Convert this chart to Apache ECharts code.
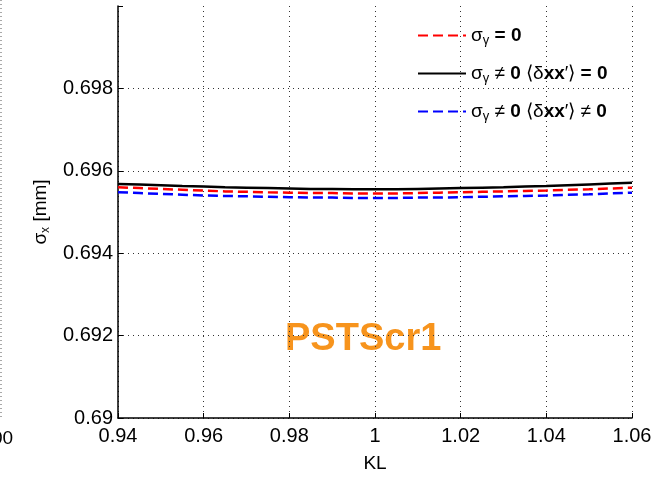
<!DOCTYPE html>
<html>
<head>
<meta charset="utf-8">
<script src="https://cdn.jsdelivr.net/npm/echarts@6/dist/echarts.min.js"></script>
<style>
	html, body { margin: 0; padding: 0; background: #fff; }
	#chart { width: 657px; height: 478px; }
</style>
</head>
<body>
<div id="chart"></div>
<script>
// KL scan, sigma_x in mm
const kl = [0.94, 0.945, 0.95, 0.955, 0.96, 0.965, 0.97, 0.975, 0.98, 0.985, 0.99, 0.995, 1.0,
	1.005, 1.01, 1.015, 1.02, 1.025, 1.03, 1.035, 1.04, 1.045, 1.05, 1.055, 1.06];
const sigGamma0 = [0.69560, 0.69558, 0.69556, 0.69554, 0.69552, 0.69550, 0.69549, 0.69548, 0.69547,
	0.69546, 0.69546, 0.69545, 0.69545, 0.69545, 0.69546, 0.69547, 0.69548, 0.69549, 0.69550,
	0.69551, 0.69552, 0.69554, 0.69555, 0.69557, 0.69559];
const sigGammaCorr0 = [0.69568, 0.69567, 0.69565, 0.69563, 0.69562, 0.69560, 0.69559, 0.69558, 0.69557,
	0.69556, 0.69556, 0.69555, 0.69555, 0.69555, 0.69556, 0.69557, 0.69558, 0.69559, 0.69560,
	0.69562, 0.69563, 0.69565, 0.69567, 0.69569, 0.69571];
const sigGammaCorr = [0.69548, 0.69546, 0.69544, 0.69542, 0.69540, 0.69539, 0.69538, 0.69537, 0.69536,
	0.69535, 0.69535, 0.69534, 0.69534, 0.69534, 0.69535, 0.69535, 0.69536, 0.69537, 0.69538,
	0.69539, 0.69540, 0.69542, 0.69543, 0.69545, 0.69547];
const seriesNames = ['s0', 's1', 's2'];

const font = 'Arial, "Liberation Sans", sans-serif';
const pair = (ys) => kl.map((x, i) => [x, ys[i]]);

const legendText = {
	s0: '{g|σ}{sub|γ}{b| = 0}',
	s1: '{g|σ}{sub|γ}{g| ≠ }{b|0 }{g|⟨δ}{b|xx}{g|′⟩}{b| = 0}',
	s2: '{g|σ}{sub|γ}{g| ≠ }{b|0 }{g|⟨δ}{b|xx}{g|′⟩}{g| ≠ }{b|0}',
};

const chart = echarts.init(document.getElementById('chart'));
chart.setOption({
	animation: false,
	grid: { left: 118, right: 25, top: 6, bottom: 57 },
	legend: {
		orient: 'vertical',
		left: 412,
		top: 21,
		itemWidth: 48,
		itemHeight: 14,
		itemGap: 17,
		data: seriesNames,
		formatter: (name) => legendText[name],
		itemStyle: { opacity: 0 },
		textStyle: {
			fontFamily: font,
			color: '#000',
			rich: {
				g: { fontSize: 19, fontFamily: font, color: '#000' },
				b: { fontSize: 19, fontWeight: 'bold', fontFamily: font, color: '#000' },
				sub: { fontSize: 13, fontFamily: font, color: '#000', verticalAlign: 'bottom', padding: [10, 0, 0, 0] },
			},
		},
	},
	xAxis: {
		type: 'value',
		min: 0.94,
		max: 1.06,
		interval: 0.02,
		name: 'KL',
		nameLocation: 'middle',
		nameGap: 36,
		nameTextStyle: { fontFamily: font, fontSize: 19, color: '#000' },
		axisLine: { lineStyle: { color: '#000', width: 1.5 } },
		axisTick: { inside: true, length: 5, lineStyle: { color: '#000' } },
		axisLabel: {
			fontFamily: font, fontSize: 20, color: '#000', margin: 8,
			formatter: (v) => String(parseFloat(v.toFixed(2))),
		},
		splitLine: { show: true, lineStyle: { color: '#333', type: [1, 4], width: 1 } },
	},
	yAxis: {
		type: 'value',
		min: 0.69,
		max: 0.7,
		interval: 0.002,
		name: '{g|σ}{sub|x}{g| [mm]}',
		nameLocation: 'middle',
		nameGap: 62,
		nameTextStyle: {
			rich: {
				g: { fontFamily: font, fontSize: 19, color: '#000' },
				sub: { fontFamily: font, fontSize: 12, color: '#000', verticalAlign: 'bottom', padding: [10, 0, 0, 0] },
			},
		},
		axisLine: { show: true, lineStyle: { color: '#000', width: 1.5 } },
		axisTick: { show: true, inside: true, length: 5, lineStyle: { color: '#000' } },
		axisLabel: {
			fontFamily: font, fontSize: 20, color: '#000', margin: 5,
			formatter: (v) => (v > 0.6995 ? '' : String(parseFloat(v.toFixed(3)))),
		},
		splitLine: { show: true, showMaxLine: false, lineStyle: { color: '#333', type: [1, 4], width: 1 } },
	},
	series: [
		{
			name: 's0', type: 'line', data: pair(sigGamma0), showSymbol: false, symbol: 'none',
			lineStyle: { color: '#ff0000', width: 2.5, type: [10, 5] }, itemStyle: { color: '#ff0000' }, z: 3,
		},
		{
			name: 's1', type: 'line', data: pair(sigGammaCorr0), showSymbol: false, symbol: 'none',
			lineStyle: { color: '#000', width: 2.5 }, itemStyle: { color: '#000' }, z: 2,
		},
		{
			name: 's2', type: 'line', data: pair(sigGammaCorr), showSymbol: false, symbol: 'none',
			lineStyle: { color: '#0000ff', width: 2.5, type: [10, 5] }, itemStyle: { color: '#0000ff' }, z: 4,
		},
	],
	graphic: [
		{
			type: 'text', left: 285, top: 321,
			style: { text: 'PSTScr1', fill: '#F7941D', font: 'bold 38px ' + font },
		},
		// edge of the neighbouring panel
		{
			type: 'line', shape: { x1: 1, y1: 0, x2: 1, y2: 418 },
			style: { stroke: '#555', lineWidth: 1, lineDash: [1, 3] },
		},
		{
			type: 'text', left: -8, top: 429,
			style: { text: '00', fill: '#000', font: '19px ' + font },
		},
	],
});
</script>
</body>
</html>
